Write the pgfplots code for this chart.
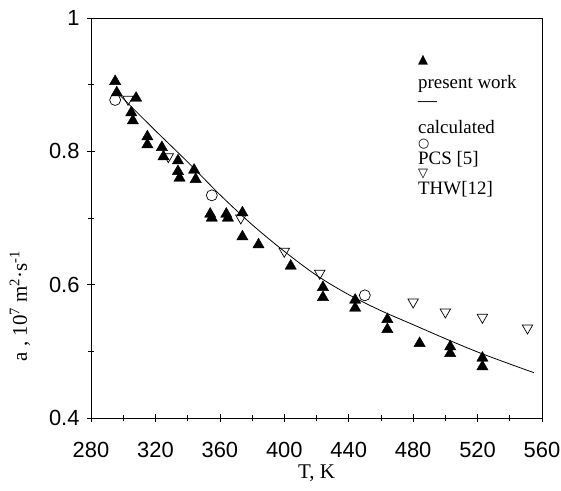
\documentclass[border=0pt]{standalone}
\usepackage{pgfplots}
\pgfplotsset{compat=1.18}
\usepackage{fontspec}
\setmainfont{Liberation Serif}
\setsansfont{Liberation Sans}
\newfontfamily\symfont{DejaVu Sans}

\begin{document}
\begin{tikzpicture}
\begin{axis}[
  width=451bp, height=400bp, scale only axis,
  xmin=280, xmax=560, ymin=0.4, ymax=1,
  xtick={280,320,...,560}, ytick={0.4,0.6,0.8,1},
  minor x tick num=1, minor y tick num=1,
  tick pos=left, tick align=center,
  major tick length=8bp, minor tick length=6bp,
  axis line style={line width=0.8pt},
  every tick/.style={black, line width=0.6pt},
  ticklabel style={font=\sffamily\fontsize{22}{24}\selectfont},
  xticklabel shift=17bp, yticklabel shift=4bp,
  /pgf/number format/assume math mode=true,
  xlabel={T, K},
  ylabel={a , 10\textsuperscript{7} m\textsuperscript{2}·s\textsuperscript{-1}},
  label style={font=\fontsize{21}{24}\selectfont},
  xlabel style={yshift=0bp},
  ylabel style={at={(ticklabel cs:0.28)}, yshift=12bp},
  clip=false,
]
% present work
\addplot[only marks, mark=triangle*, mark size=6.5bp, mark options={fill=black, draw=black}] coordinates {
(295,0.905) (296,0.888) (305,0.858) (306,0.846) (308,0.880)
(315,0.822) (315,0.810) (324,0.806) (325,0.792)
(334,0.786) (334,0.770) (335,0.760) (344,0.772) (345,0.758)
(354,0.706) (355,0.700) (364,0.706) (365,0.700) (374,0.708) (374,0.672)
(384,0.660) (404,0.628) (424,0.596) (424,0.581) (444,0.577) (444,0.565)
(464,0.548) (464,0.533) (484,0.512) (503,0.507) (503,0.497) (523,0.490) (523,0.477)
};
% calculated
\addplot[black, line width=0.8pt, smooth, no marks] coordinates {
(298,0.884) (320,0.831) (340,0.784) (360,0.735) (380,0.690) (400,0.650)
(420,0.614) (440,0.585) (460,0.561) (480,0.540) (500,0.519) (520,0.499)
(540,0.481) (555,0.468)
};
% PCS [5]
\addplot[only marks, mark=o, mark size=5.5bp, mark options={draw=black, line width=0.7pt}] coordinates {
(295,0.877) (355,0.734) (450,0.584)
};
% THW [12]
\addplot[only marks, mark=triangle, mark size=6bp, mark options={draw=black, rotate=180, line width=0.7pt}] coordinates {
(303,0.878) (328,0.792) (373,0.700) (400,0.650) (422,0.617)
(480,0.574) (500,0.559) (523,0.551) (551,0.535)
};
% legend text
\node[anchor=north west, inner sep=0pt, align=left, font=\fontsize{19}{13}\selectfont]
  at (axis cs:483,0.945) {%
  {\symfont\fontsize{13}{13}\selectfont ▲}\\[10bp]
  present work\\[5bp]
  —\\[13bp]
  calculated\\[1bp]
  {\symfont\fontsize{13}{13}\selectfont ○}\\[1bp]
  PCS [5]\\[0bp]
  {\symfont\fontsize{13}{13}\selectfont ▽}\\[1bp]
  THW[12]};
\end{axis}
\pgfresetboundingbox
\path ([shift={(-91bp,-73bp)}]current axis.south west) rectangle ([shift={(19bp,18bp)}]current axis.north east);
\end{tikzpicture}
\end{document}
